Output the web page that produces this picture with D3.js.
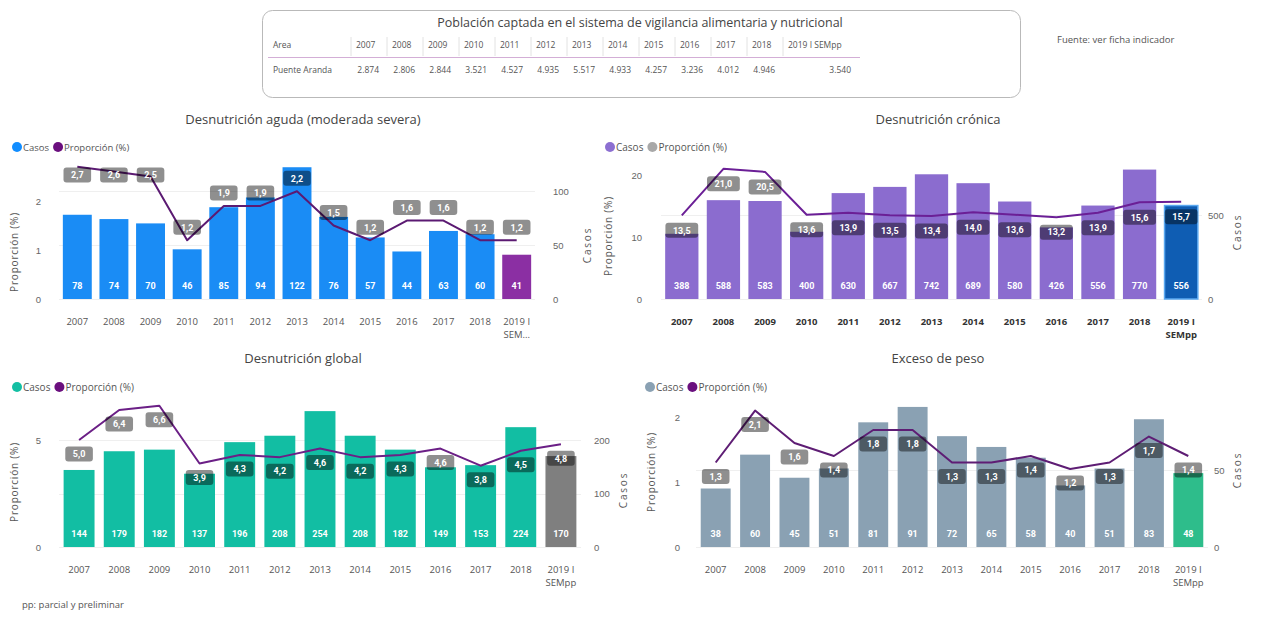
<!DOCTYPE html>
<html>
<head>
<meta charset="utf-8">
<script src="https://cdn.jsdelivr.net/npm/d3@7"></script>
<style>
  html, body { margin: 0; padding: 0; background: #fff; }
  svg { display: block; font-family: "Open Sans", "DejaVu Sans", sans-serif; }
</style>
</head>
<body>
<svg id="chart" width="1268" height="619"></svg>
<script>
// ---- Data ----
const categories = ["2007","2008","2009","2010","2011","2012","2013","2014","2015","2016","2017","2018","2019 I SEMpp"];

const agudaCasos = [78, 74, 70, 46, 85, 94, 122, 76, 57, 44, 63, 60, 41];
const agudaProp  = [2.7, 2.6, 2.5, 1.2, 1.9, 1.9, 2.2, 1.5, 1.2, 1.6, 1.6, 1.2, 1.2];

const cronicaCasos = [388, 588, 583, 400, 630, 667, 742, 689, 580, 426, 556, 770, 556];
const cronicaProp  = [13.5, 21.0, 20.5, 13.6, 13.9, 13.5, 13.4, 14.0, 13.6, 13.2, 13.9, 15.6, 15.7];

const globalCasos = [144, 179, 182, 137, 196, 208, 254, 208, 182, 149, 153, 224, 170];
const globalProp  = [5.0, 6.4, 6.6, 3.9, 4.3, 4.2, 4.6, 4.2, 4.3, 4.6, 3.8, 4.5, 4.8];

const excesoCasos = [38, 60, 45, 51, 81, 91, 72, 65, 58, 40, 51, 83, 48];
const excesoProp  = [1.3, 2.1, 1.6, 1.4, 1.8, 1.8, 1.3, 1.3, 1.4, 1.2, 1.3, 1.7, 1.4];

const tableArea = "Puente Aranda";
const tablePoblacion = [2874, 2806, 2844, 3521, 4527, 4935, 5517, 4933, 4257, 3236, 4012, 4946, 3540];

const leftTicksAguda = [0, 1, 2],   rightTicksAguda = [0, 50, 100];
const leftTicksCronica = [0, 10, 20], rightTicksCronica = [0, 500];
const leftTicksGlobal = [0, 5],     rightTicksGlobal = [0, 100, 200];
const leftTicksExceso = [0, 1, 2],  rightTicksExceso = [0, 50];

// ---- Formatting (Spanish locale) ----
const es = d3.formatLocale({decimal: ",", thousands: ".", grouping: [3], currency: ["$", ""]});
const fmtDec = es.format(".1f");
const fmtInt = es.format(",d");

const svg = d3.select("#chart");
svg.append("rect").attr("width", 1268).attr("height", 619).attr("fill", "#fff");

// ---- Header table ----
const tbl = svg.append("g");
tbl.append("rect").attr("x", 262.5).attr("y", 10.5).attr("width", 758).attr("height", 87)
  .attr("rx", 10).attr("fill", "#fff").attr("stroke", "#b9b9b9");
tbl.append("text").attr("x", 640).attr("y", 27).attr("text-anchor", "middle")
  .attr("font-size", 12.5).attr("fill", "#444").text("Población captada en el sistema de vigilancia alimentaria y nutricional");

const colX = d3.scaleBand().domain(categories.slice(0, 12)).range([351, 783]);
tbl.append("text").attr("x", 273).attr("y", 48).attr("font-size", 8.5).attr("fill", "#555").text("Area");
tbl.append("text").attr("x", 273).attr("y", 73).attr("font-size", 8.5).attr("fill", "#555").text(tableArea);
const sepXs = [351].concat(categories.slice(0, 12).map(c => colX(c) + colX.bandwidth()));
sepXs.forEach(x => tbl.append("line").attr("x1", x).attr("x2", x).attr("y1", 37).attr("y2", 56)
  .attr("stroke", "#e2e2e2"));
tbl.append("line").attr("x1", 268).attr("x2", 860).attr("y1", 57.5).attr("y2", 57.5).attr("stroke", "#d3aed6");
categories.forEach((c, i) => {
  const isLast = i === 12;
  const right = isLast ? 851 : colX(c) + colX.bandwidth() - 8;
  const hx = isLast ? 788 : colX(c) + 5;
  tbl.append("text").attr("x", hx).attr("y", 48).attr("font-size", 8.5).attr("fill", "#555")
    .text(c);
  tbl.append("text").attr("x", right).attr("y", 73).attr("text-anchor", "end")
    .attr("font-size", 8.5).attr("fill", "#555").text(fmtInt(tablePoblacion[i]));
});

svg.append("text").attr("x", 1057).attr("y", 43).attr("font-size", 9.5).attr("fill", "#555")
  .text("Fuente: ver ficha indicador");
svg.append("text").attr("x", 22).attr("y", 608).attr("font-size", 9.5).attr("fill", "#555")
  .text("pp: parcial y preliminar");

// ---- Combo chart (bars = casos, right axis; line = proporción, left axis) ----
function combo(cfg) {
  const g = svg.append("g");
  const x = d3.scaleBand().domain(categories).range(cfg.xRange).paddingInner(cfg.pad).paddingOuter(cfg.pad / 2);
  const yL = d3.scaleLinear().domain([0, cfg.leftMax]).range([cfg.y0, cfg.yTop]);
  const yR = d3.scaleLinear().domain([0, cfg.rightMax]).range([cfg.y0, cfg.yTop]);
  const cx = c => x(c) + x.bandwidth() / 2;

  // title
  g.append("text").attr("x", cfg.titleX).attr("y", cfg.titleY + 4).attr("text-anchor", "middle")
    .attr("font-size", 13).attr("fill", "#444").text(cfg.title);

  // legend
  const lg = g.append("g").attr("transform", `translate(${cfg.legendX},${cfg.legendY})`)
    .attr("font-size", cfg.legendSize).attr("fill", "#555");
  lg.append("circle").attr("cx", 5).attr("cy", 0).attr("r", 5).attr("fill", cfg.legendBar);
  const t1 = lg.append("text").attr("x", 11).attr("y", 3.5).text("Casos");
  const w1 = t1.node().getComputedTextLength();
  lg.append("circle").attr("cx", 11 + w1 + 9).attr("cy", 0).attr("r", 5).attr("fill", cfg.legendLine);
  lg.append("text").attr("x", 11 + w1 + 15).attr("y", 3.5).text("Proporción (%)");

  // gridlines
  g.append("g").selectAll("line").data(cfg.rightTicks).join("line")
    .attr("x1", cfg.xRange[0]).attr("x2", cfg.xRange[1])
    .attr("y1", d => Math.round(yR(d)) + 0.5).attr("y2", d => Math.round(yR(d)) + 0.5)
    .attr("stroke", "#efefef");

  // left axis
  const la = g.append("g").attr("transform", `translate(${cfg.leftTickX},0)`)
    .call(d3.axisLeft(yL).tickValues(cfg.leftTicks).tickSize(0).tickPadding(0).tickFormat(d3.format("d")));
  la.select(".domain").remove();
  la.selectAll("text").attr("font-size", 9.5).attr("fill", "#666").attr("font-family", null);
  g.append("text").attr("transform", `translate(${cfg.leftTitleX},${cfg.leftTitleY}) rotate(-90)`)
    .attr("text-anchor", "middle").attr("font-size", 10).attr("letter-spacing", 0.8).attr("fill", "#555")
    .text("Proporción (%)");

  // right axis
  const ra = g.append("g").attr("transform", `translate(${cfg.rightTickX},0)`)
    .call(d3.axisRight(yR).tickValues(cfg.rightTicks).tickSize(0).tickPadding(0).tickFormat(d3.format("d")));
  ra.select(".domain").remove();
  ra.selectAll("text").attr("font-size", 9.5).attr("fill", "#666").attr("font-family", null);
  g.append("text").attr("transform", `translate(${cfg.rightTitleX},${cfg.rightTitleY}) rotate(-90)`)
    .attr("text-anchor", "middle").attr("font-size", 10).attr("letter-spacing", 1.8).attr("fill", "#555")
    .text("Casos");

  // x axis labels
  const xa = g.append("g").attr("font-size", 9.5).attr("fill", cfg.boldX ? "#333" : "#555")
    .attr("font-weight", cfg.boldX ? "bold" : null);
  categories.forEach(c => {
    const parts = c.split(" ");
    const t = xa.append("text").attr("x", cx(c)).attr("y", cfg.y0 + 26).attr("text-anchor", "middle");
    if (parts.length === 1) { t.text(c); return; }
    t.append("tspan").attr("x", cx(c)).text(parts[0] + " " + parts[1]);
    t.append("tspan").attr("x", cx(c)).attr("dy", 13).text(cfg.truncate ? "SEM..." : parts[2]);
  });

  // bars
  g.append("g").selectAll("rect").data(cfg.casos).join("rect")
    .attr("x", (d, i) => x(categories[i])).attr("width", x.bandwidth())
    .attr("y", d => yR(d)).attr("height", d => cfg.y0 - yR(d))
    .attr("fill", (d, i) => i === categories.length - 1 ? cfg.lastBar : cfg.bar)
    .attr("stroke", (d, i) => i === categories.length - 1 && cfg.lastStroke ? cfg.lastStroke : null)
    .attr("stroke-width", 1.5);

  g.append("g").selectAll("text").data(cfg.casos).join("text")
    .attr("x", (d, i) => cx(categories[i])).attr("y", cfg.y0 - 10.5)
    .attr("text-anchor", "middle").attr("font-size", 9).attr("font-weight", "bold")
    .attr("font-family", "'Liberation Sans Narrow', 'Roboto', sans-serif")
    .attr("fill", "#fff").text(d => d);

  // proportion line
  const line = d3.line().x((d, i) => cx(categories[i])).y(d => yL(d));
  g.append("path").datum(cfg.prop).attr("d", line).attr("fill", "none")
    .attr("stroke", cfg.lineColor).attr("stroke-width", 2).attr("stroke-linejoin", "round");

  // proportion labels with translucent boxes
  const lb = g.append("g");
  cfg.prop.forEach((d, i) => {
    let cy = yL(d) + cfg.labelDy;
    if (cfg.labelMinY !== undefined) cy = Math.max(cy, cfg.labelMinY);
    const txt = fmtDec(d);
    const w = txt.length * 5.2 + 12;
    lb.append("rect").attr("x", cx(categories[i]) - w / 2).attr("y", cy - 7.5)
      .attr("width", w).attr("height", 15).attr("rx", 3)
      .attr("fill", "#000").attr("fill-opacity", 0.44);
    lb.append("text").attr("x", cx(categories[i])).attr("y", cy + 3.3)
      .attr("text-anchor", "middle").attr("font-size", 9).attr("font-weight", "bold")
      .attr("font-family", "'Liberation Sans Narrow', 'Roboto', sans-serif")
      .attr("fill", "#fff").text(txt);
  });
}

combo({
  title: "Desnutrición aguda (moderada severa)", titleX: 303, titleY: 120,
  legendX: 12, legendY: 147, legendSize: 9.5, legendBar: "#118dff", legendLine: "#6a0f7e",
  casos: agudaCasos, prop: agudaProp,
  xRange: [59, 535], pad: 0.21, y0: 299, yTop: 160, leftMax: 2.837, rightMax: 128.7,
  leftTicks: leftTicksAguda, rightTicks: rightTicksAguda,
  leftTickX: 41, rightTickX: 553, leftTitleX: 18, leftTitleY: 252, rightTitleX: 591, rightTitleY: 245,
  bar: "#1a8cf5", lastBar: "#8b2fa3", lineColor: "#5b1a72",
  labelDy: -13, labelMinY: 175, truncate: true
});

combo({
  title: "Desnutrición crónica", titleX: 938, titleY: 120,
  legendX: 605, legendY: 147, legendSize: 10, legendBar: "#8c6fd1", legendLine: "#a8a8a8",
  casos: cronicaCasos, prop: cronicaProp,
  xRange: [661, 1202], pad: 0.2, y0: 299, yTop: 160, leftMax: 22.42, rightMax: 827,
  leftTicks: leftTicksCronica, rightTicks: rightTicksCronica,
  leftTickX: 642, rightTickX: 1208, leftTitleX: 612, leftTitleY: 236, rightTitleX: 1241, rightTitleY: 232,
  bar: "#8b6ccf", lastBar: "#0f5db3", lastStroke: "#5aa8f0", lineColor: "#6b1f96",
  labelDy: 15, boldX: true
});

combo({
  title: "Desnutrición global", titleX: 303, titleY: 359,
  legendX: 12, legendY: 387, legendSize: 10, legendBar: "#13bfa3", legendLine: "#6a0f7e",
  casos: globalCasos, prop: globalProp,
  xRange: [59, 581], pad: 0.23, y0: 547, yTop: 400, leftMax: 6.87, rightMax: 274.8,
  leftTicks: leftTicksGlobal, rightTicks: rightTicksGlobal,
  leftTickX: 41, rightTickX: 594, leftTitleX: 18, leftTitleY: 482, rightTitleX: 627, rightTitleY: 490,
  bar: "#12bea3", lastBar: "#7f7f7f", lineColor: "#6b1f86",
  labelDy: 14
});

combo({
  title: "Exceso de peso", titleX: 938, titleY: 359,
  legendX: 645, legendY: 387, legendSize: 10, legendBar: "#8aa1b3", legendLine: "#6a0f7e",
  casos: excesoCasos, prop: excesoProp,
  xRange: [696, 1208], pad: 0.24, y0: 547, yTop: 400, leftMax: 2.262, rightMax: 95.5,
  leftTicks: leftTicksExceso, rightTicks: rightTicksExceso,
  leftTickX: 680, rightTickX: 1214, leftTitleX: 655, leftTitleY: 472, rightTitleX: 1241, rightTitleY: 470,
  bar: "#8aa1b3", lastBar: "#2ebd8b", lineColor: "#5e1d74",
  labelDy: 14
});
</script>
</body>
</html>
